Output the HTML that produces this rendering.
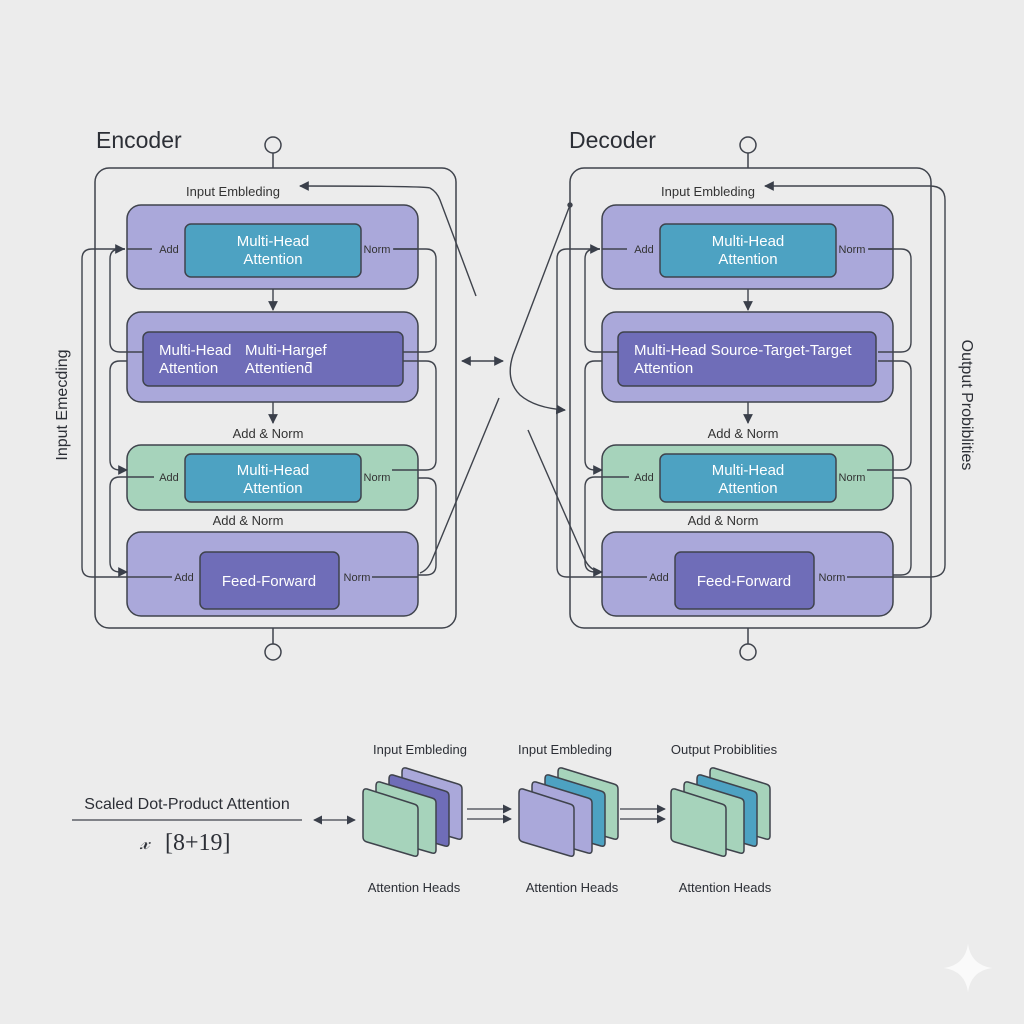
<!DOCTYPE html>
<html><head><meta charset="utf-8"><style>
html,body{margin:0;padding:0;background:#ececec;}
svg{display:block;font-family:"Liberation Sans",sans-serif;}
</style></head><body>
<svg width="1024" height="1024" viewBox="0 0 1024 1024" xmlns="http://www.w3.org/2000/svg">
<defs>
<marker id="a" viewBox="0 0 10 10" refX="9" refY="5" markerWidth="7" markerHeight="7" orient="auto-start-reverse"><path d="M0,0 L10,5 L0,10 z" fill="#3a3f4a"/></marker>
<g id="blk">
 <rect x="95" y="168" width="361" height="460" rx="14" fill="none" stroke="#3f434c" stroke-width="1.5"/>
 <line x1="273" y1="153" x2="273" y2="168" stroke="#3f434c" stroke-width="1.5"/>
 <circle cx="273" cy="145" r="8" fill="none" stroke="#3f434c" stroke-width="1.5"/>
 <line x1="273" y1="628" x2="273" y2="644" stroke="#3f434c" stroke-width="1.5"/>
 <circle cx="273" cy="652" r="8" fill="none" stroke="#3f434c" stroke-width="1.5"/>
 <text x="233" y="196" font-size="13" fill="#333" text-anchor="middle">Input Embleding</text>
 <rect x="127" y="205" width="291" height="84" rx="14" fill="#aaa8da" stroke="#3f434c" stroke-width="1.5"/>
 <rect x="127" y="312" width="291" height="90" rx="14" fill="#aaa8da" stroke="#3f434c" stroke-width="1.5"/>
 <rect x="127" y="445" width="291" height="65" rx="14" fill="#a6d3bb" stroke="#3f434c" stroke-width="1.5"/>
 <rect x="127" y="532" width="291" height="84" rx="14" fill="#aaa8da" stroke="#3f434c" stroke-width="1.5"/>
 <rect x="185" y="224" width="176" height="53" rx="6" fill="#4da2c2" stroke="#3f434c" stroke-width="1.5"/>
 <rect x="185" y="454" width="176" height="48" rx="6" fill="#4da2c2" stroke="#3f434c" stroke-width="1.5"/>
 <rect x="200" y="552" width="139" height="57" rx="6" fill="#6f6db8" stroke="#3f434c" stroke-width="1.5"/>
 <g stroke="#3f434c" stroke-width="1.4" fill="none">
  <line x1="273" y1="289" x2="273" y2="310" marker-end="url(#a)"/>
  <line x1="273" y1="402" x2="273" y2="423" marker-end="url(#a)"/>
  <line x1="127" y1="249" x2="152" y2="249"/>
  <line x1="393" y1="249" x2="418" y2="249"/>
  <path d="M125,249 H92 Q82,249 82,259 V567 Q82,577 92,577 H172"/>
  <path d="M125,249 H120 Q110,249 110,259 V342 Q110,352 120,352 H143"/>
  <path d="M127,361 H120 Q110,361 110,371 V460 Q110,470 120,470 H127" marker-end="url(#a)"/>
  <path d="M154,477 H120 Q110,477 110,487 V562 Q110,572 120,572 H127" marker-end="url(#a)"/>
  <path d="M394,249 H426 Q436,249 436,259 V342 Q436,352 426,352 H403"/>
  <path d="M403,361 H426 Q436,361 436,371 V460 Q436,470 426,470 H392"/>
  <path d="M418,478 H426 Q436,478 436,488 V565 Q436,575 426,575 H418"/>
  <line x1="372" y1="577" x2="418" y2="577"/>
  <line x1="115" y1="249" x2="124" y2="249" marker-end="url(#a)"/>
 </g>
 <text x="169" y="253" font-size="11" fill="#333" text-anchor="middle">Add</text>
 <text x="377" y="253" font-size="11" fill="#333" text-anchor="middle">Norm</text>
 <text x="169" y="481" font-size="11" fill="#333" text-anchor="middle">Add</text>
 <text x="377" y="481" font-size="11" fill="#333" text-anchor="middle">Norm</text>
 <text x="184" y="581" font-size="11" fill="#333" text-anchor="middle">Add</text>
 <text x="357" y="581" font-size="11" fill="#333" text-anchor="middle">Norm</text>
 <text x="268" y="438" font-size="13" fill="#333" text-anchor="middle">Add &amp; Norm</text>
 <text x="248" y="525" font-size="13" fill="#333" text-anchor="middle">Add &amp; Norm</text>
 <g font-size="15" fill="#fff" text-anchor="middle">
  <text x="273" y="246">Multi-Head</text><text x="273" y="264">Attention</text>
  <text x="273" y="475">Multi-Head</text><text x="273" y="493">Attention</text>
  <text x="269" y="586">Feed-Forward</text>
 </g>
</g>
</defs>
<rect width="1024" height="1024" fill="#ececec"/>
<text x="96" y="148" font-size="23" fill="#2c2f36">Encoder</text>
<text x="569" y="148" font-size="23" fill="#2c2f36">Decoder</text>
<use href="#blk"/>
<rect x="143" y="332" width="260" height="54" rx="6" fill="#6f6db8" stroke="#3f434c" stroke-width="1.5"/>
<g font-size="15" fill="#fff">
 <text x="159" y="355">Multi-Head</text><text x="159" y="373">Attention</text>
 <text x="245" y="355">Multi-Hargef</text><text x="245" y="373">Attentienƌ</text>
</g>
<g transform="translate(475,0)"><use href="#blk"/></g>
<rect x="618" y="332" width="258" height="54" rx="6" fill="#6f6db8" stroke="#3f434c" stroke-width="1.5"/>
<g font-size="15" fill="#fff">
 <text x="634" y="355">Multi-Head Source-Target-Target</text><text x="634" y="373">Attention</text>
</g>
<g stroke="#3f434c" stroke-width="1.4" fill="none">
 <path d="M430,188 Q425,186 300,186" marker-end="url(#a)"/>
 <path d="M430,188 Q437,192 440,200 L476,296"/>
 <line x1="462" y1="361" x2="503" y2="361" marker-start="url(#a)" marker-end="url(#a)"/>
 <path d="M499,398 L432,560 Q428,570 420,573"/>
 <path d="M570,205 L513,355 Q505,380 520,395 Q535,408 565,410" marker-end="url(#a)"/>
 <circle cx="570" cy="205" r="2" fill="#3f434c"/>
 <path d="M528,430 L585,560 Q590,570 600,572"/>
 <path d="M930,186 Q945,186 945,200 V565 Q945,577 930,577 H893" />
 <line x1="930" y1="186" x2="765" y2="186" marker-end="url(#a)"/>
</g>
<text transform="translate(67,405) rotate(-90)" font-size="16" fill="#2c2f36" text-anchor="middle">Input Emecding</text>
<text transform="translate(962,405) rotate(90)" font-size="16" fill="#2c2f36" text-anchor="middle">Output Probiblities</text>

<text x="187" y="809" font-size="16" fill="#2c2f36" text-anchor="middle">Scaled Dot-Product Attention</text>
<line x1="72" y1="820" x2="302" y2="820" stroke="#3f434c" stroke-width="1.3"/>
<text x="140" y="849" font-size="20" fill="#2c2f36" font-family="Liberation Serif,serif" font-style="italic">𝓍</text>
<text x="165" y="850" font-size="24" fill="#2c2f36" font-family="Liberation Serif,serif">[8+19]</text>
<line x1="314" y1="820" x2="355" y2="820" stroke="#3f434c" stroke-width="1.3" marker-start="url(#a)" marker-end="url(#a)"/>
<g stroke="#3f434c" stroke-width="1.3">
 <line x1="467" y1="809" x2="511" y2="809" marker-end="url(#a)"/>
 <line x1="467" y1="819" x2="511" y2="819" marker-end="url(#a)"/>
 <line x1="620" y1="809" x2="665" y2="809" marker-end="url(#a)"/>
 <line x1="620" y1="819" x2="665" y2="819" marker-end="url(#a)"/>
</g>
<g stroke="#3f434c" stroke-width="1.5" stroke-linejoin="round">
 <path transform="translate(402,768)" d="M4,0 L56,16 Q60,17 60,21 L60,68 Q60,72 56,71 L4,56 Q0,55 0,51 L0,4 Q0,-1 4,0z" fill="#aaa8da"/>
 <path transform="translate(389,775)" d="M4,0 L56,16 Q60,17 60,21 L60,68 Q60,72 56,71 L4,56 Q0,55 0,51 L0,4 Q0,-1 4,0z" fill="#6f6db8"/>
 <path transform="translate(376,782)" d="M4,0 L56,16 Q60,17 60,21 L60,68 Q60,72 56,71 L4,56 Q0,55 0,51 L0,4 Q0,-1 4,0z" fill="#a6d3bb"/>
 <path transform="translate(363,789)" d="M4,0 L51,15 Q55,16 55,20 L55,64 Q55,68 51,67 L4,53 Q0,52 0,48 L0,4 Q0,-1 4,0z" fill="#a6d3bb"/>
 <path transform="translate(558,768)" d="M4,0 L56,16 Q60,17 60,21 L60,68 Q60,72 56,71 L4,56 Q0,55 0,51 L0,4 Q0,-1 4,0z" fill="#a6d3bb"/>
 <path transform="translate(545,775)" d="M4,0 L56,16 Q60,17 60,21 L60,68 Q60,72 56,71 L4,56 Q0,55 0,51 L0,4 Q0,-1 4,0z" fill="#4da2c2"/>
 <path transform="translate(532,782)" d="M4,0 L56,16 Q60,17 60,21 L60,68 Q60,72 56,71 L4,56 Q0,55 0,51 L0,4 Q0,-1 4,0z" fill="#aaa8da"/>
 <path transform="translate(519,789)" d="M4,0 L51,15 Q55,16 55,20 L55,64 Q55,68 51,67 L4,53 Q0,52 0,48 L0,4 Q0,-1 4,0z" fill="#aaa8da"/>
 <path transform="translate(710,768)" d="M4,0 L56,16 Q60,17 60,21 L60,68 Q60,72 56,71 L4,56 Q0,55 0,51 L0,4 Q0,-1 4,0z" fill="#a6d3bb"/>
 <path transform="translate(697,775)" d="M4,0 L56,16 Q60,17 60,21 L60,68 Q60,72 56,71 L4,56 Q0,55 0,51 L0,4 Q0,-1 4,0z" fill="#4da2c2"/>
 <path transform="translate(684,782)" d="M4,0 L56,16 Q60,17 60,21 L60,68 Q60,72 56,71 L4,56 Q0,55 0,51 L0,4 Q0,-1 4,0z" fill="#a6d3bb"/>
 <path transform="translate(671,789)" d="M4,0 L51,15 Q55,16 55,20 L55,64 Q55,68 51,67 L4,53 Q0,52 0,48 L0,4 Q0,-1 4,0z" fill="#a6d3bb"/>
</g>
<g font-size="13" fill="#2c2f36" text-anchor="middle">
 <text x="420" y="754">Input Embleding</text>
 <text x="565" y="754">Input Embleding</text>
 <text x="724" y="754">Output Probiblities</text>
 <text x="414" y="892">Attention Heads</text>
 <text x="572" y="892">Attention Heads</text>
 <text x="725" y="892">Attention Heads</text>
</g>
<path d="M968,944 Q971,965 992,968 Q971,971 968,992 Q965,971 944,968 Q965,965 968,944z" fill="#fafafa"/>
</svg>
</body></html>
